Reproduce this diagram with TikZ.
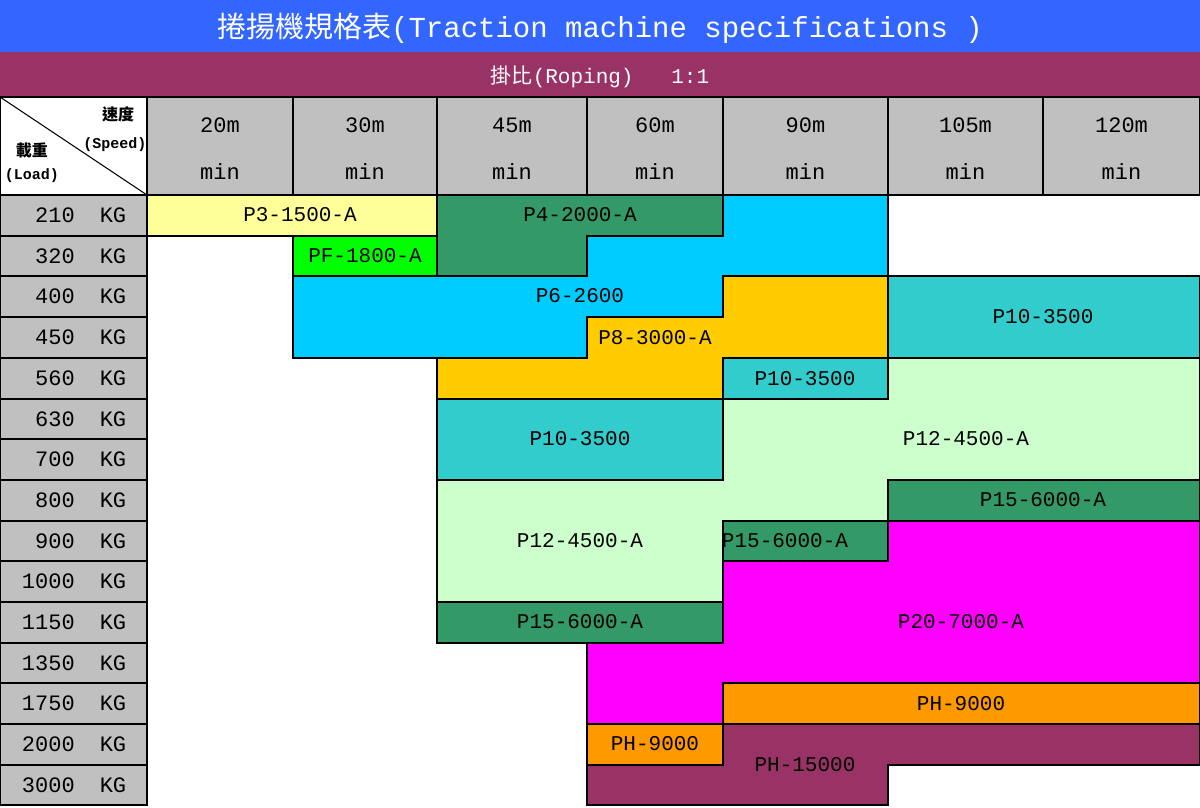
\documentclass[tikz,border=0pt]{standalone}
\usepackage{fontspec}
\setmainfont{Liberation Mono}
\newfontfamily\cjk{Noto Sans CJK TC}
\usetikzlibrary{positioning}
\definecolor{titleblue}{RGB}{51,102,255}
\definecolor{ropepurple}{RGB}{153,51,102}
\definecolor{cellgray}{RGB}{192,192,192}
\definecolor{pyellow}{RGB}{255,255,153}
\definecolor{pdkgreen}{RGB}{51,153,102}
\definecolor{pblue}{RGB}{0,204,255}
\definecolor{plime}{RGB}{0,255,0}
\definecolor{pgold}{RGB}{255,204,0}
\definecolor{pteal}{RGB}{51,204,204}
\definecolor{plgreen}{RGB}{204,255,204}
\definecolor{pmagenta}{RGB}{255,0,255}
\definecolor{porange}{RGB}{255,153,0}

\begin{document}
\begin{tikzpicture}[x=1pt, y=-1pt,
    region/.style={draw=black, line width=1.2pt},
    cell/.style={draw=black, line width=1.2pt, fill=cellgray},
    lbl/.style={font=\fontsize{21}{21}\selectfont, inner sep=0pt},
    hdr/.style={font=\fontsize{22}{22}\selectfont, inner sep=0pt}
]
\useasboundingbox (0,0) rectangle (1200,807);

% Title bars
\fill[titleblue] (0,0) rectangle (1200,52);
\node[white, font=\fontsize{29}{29}\selectfont, inner sep=0pt] (title) at (600,28) {{\cjk 捲揚機規格表}(Traction machine specifications )};
\fill[ropepurple] (0,52) rectangle (1200,97);
\node[white, font=\fontsize{21}{21}\selectfont, inner sep=0pt] (roping) at (600,77) {{\cjk 掛比}(Roping)~~~1:1};

% Corner cell
\draw[fill=white, line width=1.2pt] (0,97) rectangle (147,195);
\draw[line width=1pt] (0,97) -- (147,195);
\node[font=\cjk\bfseries\fontsize{16}{16}\selectfont, inner sep=0pt] (speedzh) at (118,114) {速度};
\node[font=\bfseries\fontsize{15}{15}\selectfont, inner sep=0pt] (speeden) at (115,145) {(Speed)};
\node[font=\cjk\bfseries\fontsize{16}{16}\selectfont, inner sep=0pt] (loadzh) at (32,150) {載重};
\node[font=\bfseries\fontsize{15}{15}\selectfont, inner sep=0pt] (loaden) at (32,176) {(Load)};

% Speed headers
\foreach \xa/\xb/\sa/\sb [count=\i] in {147/293/20m/min/(0.3m/sec), 293/437/30m/min/(0.5m/sec),
    437/587/45m/min/(0.75m/sec), 587/723/60m/min/(1.0m/sec), 723/888/90m/min/(1.5m/sec),
    888/1043/105m/min/(1.75m/sec), 1043/1200/120m/min/(2.0m/sec)} {
  \draw[cell] (\xa,97) rectangle (\xb,195);
  \node[hdr] (spd\i) at ({(\xa+\xb)/2},125) {\sa};
  \node[hdr] (sec\i) at ({(\xa+\xb)/2},172) {\sb};
}

% Load rows
\foreach \ya/\yb/\kg [count=\i] in {195/236/210, 236/276/320, 276/317/400, 317/358/450, 358/399/560,
    399/439/630, 439/480/700, 480/521/800, 521/561/900, 561/602/1000, 602/643/1150,
    643/683/1350, 683/724/1750, 724/765/2000, 765/805/3000} {
  \draw[cell] (0,\ya) rectangle (147,\yb);
  \node[hdr, anchor=east] (kg\i) at (75,{(\ya+\yb)/2}) {\kg};
  \node[hdr] (unit\i) at (113,{(\ya+\yb)/2}) {KG};
}

% Machine regions
\draw[region, fill=pyellow] (147,195) rectangle (437,236);
\draw[region, fill=pdkgreen] (437,195) -- (723,195) -- (723,236) -- (587,236) -- (587,276) -- (437,276) -- cycle;
\draw[region, fill=pblue] (723,195) -- (888,195) -- (888,276) -- (723,276) -- (723,317) -- (587,317)
    -- (587,358) -- (293,358) -- (293,276) -- (587,276) -- (587,236) -- (723,236) -- cycle;
\draw[region, fill=plime] (293,236) rectangle (437,276);
\draw[region, fill=pgold] (723,276) -- (888,276) -- (888,358) -- (723,358) -- (723,399) -- (437,399)
    -- (437,358) -- (587,358) -- (587,317) -- (723,317) -- cycle;
\draw[region, fill=pteal] (888,276) rectangle (1200,358);
\draw[region, fill=pteal] (723,358) rectangle (888,399);
\draw[region, fill=plgreen] (888,358) -- (1200,358) -- (1200,480) -- (888,480) -- (888,521) -- (723,521)
    -- (723,602) -- (437,602) -- (437,480) -- (723,480) -- (723,399) -- (888,399) -- cycle;
\draw[region, fill=pteal] (437,399) rectangle (723,480);
\draw[region, fill=pdkgreen] (888,480) rectangle (1200,521);
\draw[region, fill=pdkgreen] (723,521) rectangle (888,561);
\draw[region, fill=pdkgreen] (437,602) rectangle (723,643);
\draw[region, fill=pmagenta] (888,521) -- (1200,521) -- (1200,683) -- (723,683) -- (723,724) -- (587,724)
    -- (587,643) -- (723,643) -- (723,561) -- (888,561) -- cycle;
\draw[region, fill=porange] (723,683) rectangle (1200,724);
\draw[region, fill=porange] (587,724) rectangle (723,765);
\draw[region, fill=ropepurple] (723,724) -- (1200,724) -- (1200,765) -- (888,765) -- (888,805)
    -- (587,805) -- (587,765) -- (723,765) -- cycle;

% Region labels
\node[lbl] (p3) at (300,215) {P3-1500-A};
\node[lbl] (p4) at (580,215) {P4-2000-A};
\node[lbl] (pf) at (365,256) {PF-1800-A};
\node[lbl] (p6) at (580,296) {P6-2600};
\node[lbl] (p8) at (655,338) {P8-3000-A};
\node[lbl] (p10a) at (1043,317) {P10-3500};
\node[lbl] (p10b) at (805,379) {P10-3500};
\node[lbl] (p10c) at (580,439) {P10-3500};
\node[lbl] (p12a) at (966,439) {P12-4500-A};
\node[lbl] (p12b) at (580,541) {P12-4500-A};
\node[lbl] (p15a) at (1043,500) {P15-6000-A};
\node[lbl] (p15b) at (785,541) {P15-6000-A};
\node[lbl] (p15c) at (580,622) {P15-6000-A};
\node[lbl] (p20) at (961,622) {P20-7000-A};
\node[lbl] (ph9a) at (961,704) {PH-9000};
\node[lbl] (ph9b) at (655,744) {PH-9000};
\node[lbl] (ph15) at (805,765) {PH-15000};
\end{tikzpicture}
\end{document}
